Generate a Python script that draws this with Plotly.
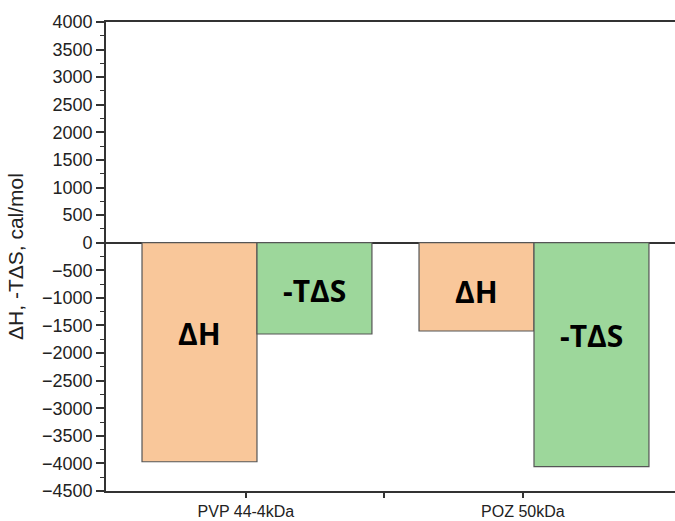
import plotly.graph_objects as go

categories = ["PVP 44-4kDa", "POZ 50kDa"]
delta_h = [-3970, -1600]
minus_t_delta_s = [-1655, -4060]
bar_labels = ["ΔH", "-TΔS"]
label_y_dh = [-1640, -880]
label_y_ts = [-860, -1680]

idx = list(range(len(categories)))
W = 0.415
OFF_H = -0.375
OFF_S = 0.04

fig = go.Figure()
fig.add_trace(go.Bar(x=idx, y=delta_h, width=W, offset=OFF_H, name=bar_labels[0],
                     marker=dict(color="#F9C79A", line=dict(color="#555555", width=1.2))))
fig.add_trace(go.Bar(x=idx, y=minus_t_delta_s, width=W, offset=OFF_S, name=bar_labels[1],
                     marker=dict(color="#9DD79B", line=dict(color="#555555", width=1.2))))

anns = []
for i in idx:
    anns.append(dict(x=i + OFF_H + W / 2, y=label_y_dh[i], text=bar_labels[0], showarrow=False,
                     font=dict(family="Open Sans", size=30, color="black", weight="bold")))
    anns.append(dict(x=i + OFF_S + W / 2, y=label_y_ts[i], text=bar_labels[1], showarrow=False,
                     font=dict(family="Open Sans", size=30, color="black", weight="bold")))

fig.update_layout(
    width=675, height=521,
    margin=dict(l=106, r=0, t=22, b=30),
    paper_bgcolor="white", plot_bgcolor="white",
    showlegend=False, barmode="overlay",
    annotations=anns,
    font=dict(family="Liberation Sans, Arial", color="#222222"),
)
fig.update_xaxes(
    range=[-0.505, 1.549], tickmode="array",
    tickvals=[0, 0.5, 1], ticktext=[categories[0], "", categories[1]],
    ticks="outside", ticklen=5, tickwidth=1.5, tickcolor="#333333",
    showline=True, linecolor="#333333", linewidth=1.6, mirror=True,
    showgrid=False, zeroline=False, automargin=False,
    tickfont=dict(size=16, color="#222222"),
)
fig.update_yaxes(
    range=[-4500, 4000], dtick=500, tick0=0,
    ticks="outside", ticklen=8, tickwidth=1.5, tickcolor="#333333",
    minor=dict(dtick=250, ticks="outside", ticklen=4, tickcolor="#333333", tickwidth=1.2),
    showline=True, linecolor="#333333", linewidth=1.6,
    showgrid=False, zeroline=True, zerolinecolor="#333333", zerolinewidth=1.6,
    automargin=False,
    tickfont=dict(size=18, color="#222222"),
    title=dict(text="ΔH, -TΔS, cal/mol", font=dict(size=21, color="#222222"), standoff=13),
)

fig.write_html(
    "out.html",
    config={"displayModeBar": False},
    post_script="document.body.style.margin='0';document.body.style.overflow='hidden';",
)
